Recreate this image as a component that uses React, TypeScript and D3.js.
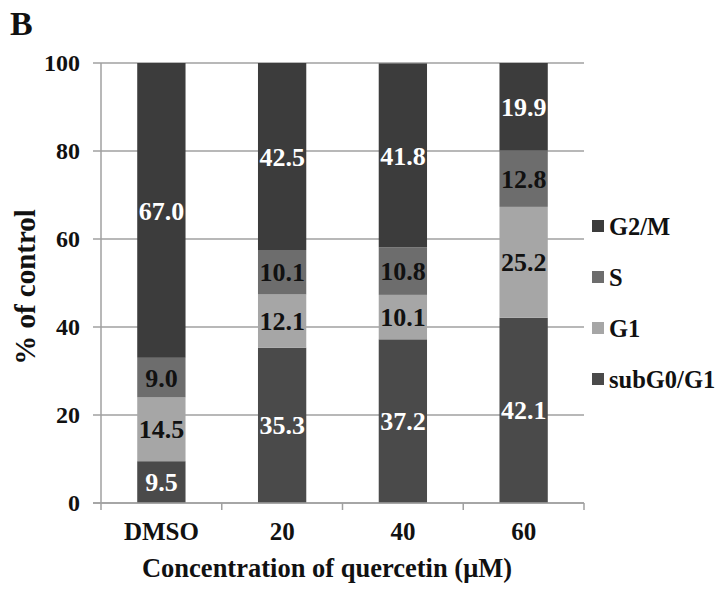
import React from "react";
import * as d3 from "d3";

const categories = ["DMSO", "20", "40", "60"];
const seriesNames = ["subG0/G1", "G1", "S", "G2/M"];
const subG0G1 = [9.5, 35.3, 37.2, 42.1];
const g1 = [14.5, 12.1, 10.1, 25.2];
const sPhase = [9.0, 10.1, 10.8, 12.8];
const g2m = [67.0, 42.5, 41.8, 19.9];
const yTicks = [0, 20, 40, 60, 80, 100];

const colors: Record<string, string> = {
  "subG0/G1": "#4a4a4a",
  G1: "#a6a6a6",
  S: "#6d6d6d",
  "G2/M": "#3c3c3c",
};
const labelColors: Record<string, string> = {
  "subG0/G1": "#ffffff",
  G1: "#111111",
  S: "#111111",
  "G2/M": "#ffffff",
};

const FONT = "Liberation Serif, DejaVu Serif, serif";

export default function App() {
  const W = 724, H = 591;
  const left = 101, right = 584, top = 63, bottom = 503;
  const x = d3.scaleBand().domain(categories).range([left, right]).paddingInner(0.6).paddingOuter(0.3);
  const xOuter = d3.scaleBand().domain(categories).range([left, right]);
  const y = d3.scaleLinear().domain([0, 100]).range([bottom, top]);

  const rows = categories.map((c, i) => ({
    cat: c,
    "subG0/G1": subG0G1[i],
    G1: g1[i],
    S: sPhase[i],
    "G2/M": g2m[i],
  }));
  const stack = d3.stack<any>().keys(seriesNames)(rows);

  const legendOrder = ["G2/M", "S", "G1", "subG0/G1"];
  const legendY = [226, 277, 328, 379];
  const grid = "#a0a0a0";

  return (
    <svg width={W} height={H} style={{ position: "absolute", left: 0, top: 0, background: "#fff", fontFamily: FONT }}>
      <rect width={W} height={H} fill="#fff" />
      <text x={10} y={35} fontWeight="bold" fontSize={34} fill="#111">B</text>
      {yTicks.map((t) => (
        <g key={t}>
          <line x1={left - 8} x2={right} y1={y(t)} y2={y(t)} stroke={grid} strokeWidth={1.5} />
          <text x={80} y={y(t)} dy="0.35em" textAnchor="end" fontWeight="bold" fontSize={24} fill="#111">{t}</text>
        </g>
      ))}
      <line x1={left} x2={left} y1={top} y2={bottom} stroke={grid} strokeWidth={1.5} />
      {categories.map((c) => (
        <line key={c} x1={xOuter(c)!} x2={xOuter(c)!} y1={bottom} y2={bottom + 7} stroke={grid} strokeWidth={1.5} />
      ))}
      <line x1={right} x2={right} y1={bottom} y2={bottom + 7} stroke={grid} strokeWidth={1.5} />
      {stack.map((layer) => (
        <g key={layer.key}>
          {layer.map((d, i) => (
            <rect key={i} x={x(categories[i])!} width={x.bandwidth()} y={y(d[1])} height={y(d[0]) - y(d[1])} fill={colors[layer.key]} />
          ))}
        </g>
      ))}
      {stack.map((layer) => (
        <g key={layer.key + "-l"}>
          {layer.map((d, i) => (
            <text key={i} x={x(categories[i])! + x.bandwidth() / 2} y={y((d[0] + d[1]) / 2)} dy="0.35em" textAnchor="middle"
              fontWeight="bold" fontSize={26} fill={labelColors[layer.key]}>
              {(d[1] - d[0]).toFixed(1)}
            </text>
          ))}
        </g>
      ))}
      <line x1={left - 8} x2={right} y1={bottom} y2={bottom} stroke={grid} strokeWidth={1.5} />
      {categories.map((c) => (
        <text key={c} x={xOuter(c)! + xOuter.bandwidth() / 2} y={540} textAnchor="middle" fontWeight="bold" fontSize={25} fill="#111">{c}</text>
      ))}
      <text x={327} y={577} textAnchor="middle" fontWeight="bold" fontSize={26.5} fill="#111">Concentration of quercetin (μM)</text>
      <text transform={`translate(35,287) rotate(-90)`} textAnchor="middle" fontWeight="bold" fontSize={29} fill="#111">% of control</text>
      {legendOrder.map((k, i) => (
        <g key={k}>
          <rect x={592} y={legendY[i] - 6} width={12} height={12} fill={colors[k]} />
          <text x={609} y={legendY[i]} dy="0.35em" fontWeight="bold" fontSize={24.5} fill="#111">{k}</text>
        </g>
      ))}
    </svg>
  );
}
